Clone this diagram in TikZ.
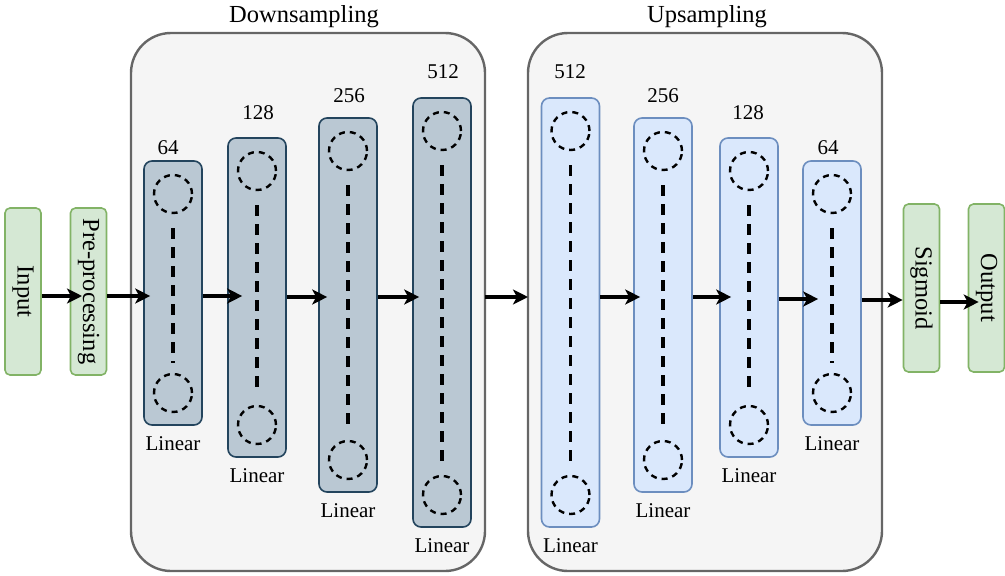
\documentclass[tikz,border=0pt]{standalone}
\usepackage{fontspec}
\setmainfont{Liberation Serif}
\usetikzlibrary{arrows.meta,calc}
\definecolor{grpfill}{HTML}{F5F5F5}
\definecolor{grpdraw}{HTML}{666666}
\definecolor{dkfill}{HTML}{BAC8D3}
\definecolor{dkdraw}{HTML}{23445D}
\definecolor{ltfill}{HTML}{DAE8FC}
\definecolor{ltdraw}{HTML}{6C8EBF}
\definecolor{gnfill}{HTML}{D5E8D4}
\definecolor{gndraw}{HTML}{82B366}
\tikzset{
  grp/.style={draw=grpdraw, fill=grpfill, line width=2.4pt, rounded corners=40pt},
  dkbox/.style={draw=dkdraw, fill=dkfill, line width=1.6pt, rounded corners=8pt, minimum width=58pt},
  ltbox/.style={draw=ltdraw, fill=ltfill, line width=1.6pt, rounded corners=8pt, minimum width=58pt},
  gnbox/.style={draw=gndraw, fill=gnfill, line width=1.6pt, rounded corners=5pt, minimum width=36pt, minimum height=167pt, inner sep=0pt},
  neuron/.style={circle, draw=black, line width=2.4pt, dash pattern=on 6pt off 5pt, minimum size=38pt, inner sep=0pt},
  link/.style={draw=black, line width=3.4pt, dash pattern=on 11pt off 8pt},
  arr/.style={draw=black, line width=3.4pt, -{Stealth[length=15pt,width=15pt,inset=4pt]}},
  vtext/.style={font=\fontsize{24.5}{26}\selectfont, rotate=-90},
  lbl/.style={font=\fontsize{21}{24}\selectfont, inner sep=0pt},
  ttl/.style={font=\fontsize{24.5}{27}\selectfont, inner sep=0pt},
}
\begin{document}
\begin{tikzpicture}[x=1pt,y=-1pt]
\useasboundingbox (0,0) rectangle (1005,576);
% groups
\draw[grp] (131,33) rectangle (485,571);
\draw[grp] (528,33) rectangle (882,571);
\node[ttl] (tdown) at (304,17) {Downsampling};
\node[ttl] (tup) at (707,17) {Upsampling};
\coordinate (gdown) at (485,297);
\coordinate (gup) at (528,297);
% input / output
\node[gnbox] (in) at (23,291.5) {};
\node[vtext] at (in) {Input};
\node[gnbox] (pre) at (88.5,291.5) {};
\node[vtext] at (pre) {Pre-processing};
\node[gnbox, minimum height=168pt] (sig) at (921.5,288) {};
\node[vtext] at (sig) {Sigmoid};
\node[gnbox, minimum height=168pt] (out) at (986.5,288) {};
\node[vtext] at (out) {Output};
% layers: name, x, top, bottom, style
\foreach \nm/\x/\t/\b/\st in {d1/173/161/425/dkbox, d2/257/138/457/dkbox, d3/348/118/492/dkbox, d4/442/98/527/dkbox,
  u1/570.5/98/527/ltbox, u2/663/118/492/ltbox, u3/749/138/457/ltbox, u4/832/161/425/ltbox}{
  \node[\st, minimum height={\b-\t}] (\nm) at (\x,{(\t+\b)/2}) {};
  \node[neuron] (\nm t) at (\x,\t+33) {};
  \node[neuron] (\nm b) at (\x,\b-32) {};
  \draw[link] ([yshift=-14pt]\nm t.south) -- ([yshift=10pt]\nm b.north);
  \node[lbl] (\nm lin) at (\x,\b+19) {Linear};
}
\node[lbl] (d1n) at (168,148) {64};
\node[lbl] (d2n) at (258,113) {128};
\node[lbl] (d3n) at (349,96) {256};
\node[lbl] (d4n) at (443,72) {512};
\node[lbl] (u1n) at (570,72) {512};
\node[lbl] (u2n) at (663,96) {256};
\node[lbl] (u3n) at (748,113) {128};
\node[lbl] (u4n) at (828,148) {64};
% arrows
\draw[arr] (in.east |- 0,296) -- (82,296);
\draw[arr] (pre.east |- 0,296) -- ([xshift=7pt]d1.west |- 0,296);
\draw[arr] (d1.east |- 0,296) -- ([xshift=15pt]d2.west |- 0,296);
\draw[arr] (d2.east |- 0,297) -- ([xshift=9pt]d3.west |- 0,297);
\draw[arr] (d3.east |- 0,297) -- ([xshift=7pt]d4.west |- 0,297);
\draw[arr] (gdown) -- (gup);
\draw[arr] (u1.east |- 0,297) -- ([xshift=7pt]u2.west |- 0,297);
\draw[arr] (u2.east |- 0,297) -- ([xshift=12pt]u3.west |- 0,297);
\draw[arr] (u3.east |- 0,299) -- ([xshift=16pt]u4.west |- 0,299);
\draw[arr] (u4.east |- 0,300) -- (sig.west |- 0,300);
\draw[arr] (sig.east |- 0,302) -- ([xshift=11pt]out.west |- 0,302);
\end{tikzpicture}
\end{document}
